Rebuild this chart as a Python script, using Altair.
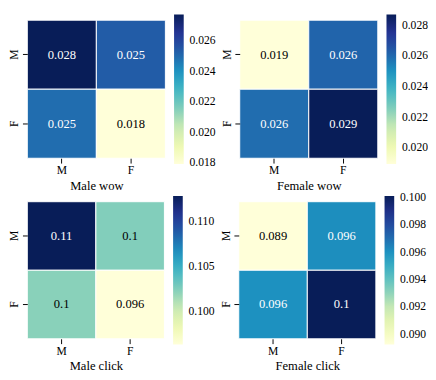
import altair as alt
import pandas as pd

rows = ["M", "F"]
cols = ["M", "F"]
titles = ["Male wow", "Female wow", "Male click", "Female click"]

male_wow = [[0.0277, 0.0253], [0.0249, 0.0179]]
female_wow = [[0.0189, 0.0261], [0.0259, 0.0287]]
male_click = [[0.1128, 0.1024], [0.1022, 0.0963]]
female_click = [[0.0892, 0.0961], [0.0960, 0.1001]]

ticks_male_wow = [0.018, 0.020, 0.022, 0.024, 0.026]
ticks_female_wow = [0.020, 0.022, 0.024, 0.026, 0.028]
ticks_male_click = [0.100, 0.105, 0.110]
ticks_female_click = [0.090, 0.092, 0.094, 0.096, 0.098, 0.100]

# matplotlib YlGnBu control colours
ylgnbu = ["#ffffd9", "#edf8b1", "#c7e9b4", "#7fcdbb", "#41b6c4",
          "#1d91c0", "#225ea8", "#253494", "#081d58"]

FONT = "Liberation Serif"


def panel(values, title, ticks, size):
    recs = []
    for i, r in enumerate(rows):
        for j, c in enumerate(cols):
            recs.append({"row": r, "col": c, "value": values[i][j]})
    df = pd.DataFrame(recs)
    lo, hi = float(df["value"].min()), float(df["value"].max())
    df["t"] = (df["value"] - lo) / (hi - lo)

    base = alt.Chart(df).encode(
        x=alt.X(
            "col:N",
            sort=cols,
            title=title,
            axis=alt.Axis(
                labelAngle=0,
                domain=False,
                tickSize=5,
                tickColor="black",
                labelPadding=2,
                labelFont=FONT,
                labelFontSize=12,
                labelColor="black",
                titleFont=FONT,
                titleFontSize=13,
                titleFontWeight="normal",
                titleColor="black",
                titlePadding=4,
            ),
        ),
        y=alt.Y(
            "row:N",
            sort=rows,
            title=None,
            axis=alt.Axis(
                labelAngle=270,
                labelAlign="center",
                labelBaseline="bottom",
                domain=False,
                tickSize=5,
                tickColor="black",
                labelPadding=2,
                labelFont=FONT,
                labelFontSize=12,
                labelColor="black",
            ),
        ),
    )
    rect = base.mark_rect(stroke="white", strokeWidth=1).encode(
        color=alt.Color(
            "value:Q",
            scale=alt.Scale(range=ylgnbu, interpolate="rgb", domain=[lo, hi], zero=False, nice=False),
            legend=alt.Legend(
                title=None,
                values=ticks,
                format=".3f",
                orient="none",
                legendX=size + 9,
                legendY=-6,
                direction="vertical",
                gradientLength=size + 12,
                gradientThickness=10,
                gradientStrokeWidth=0,
                labelFont=FONT,
                labelFontSize=12,
                labelColor="black",
                labelOffset=6,
                labelOverlap=False,
            ),
        )
    )
    text = base.mark_text(fontSize=13, font=FONT).encode(
        text=alt.Text("value:Q", format=".2~g"),
        color=alt.condition("datum.t > 0.5", alt.value("white"), alt.value("black")),
    )
    return (rect + text).properties(width=size, height=size)


p1 = panel(male_wow, titles[0], ticks_male_wow, 143)
p2 = panel(female_wow, titles[1], ticks_female_wow, 143)
p3 = panel(male_click, titles[2], ticks_male_click, 142)
p4 = panel(female_click, titles[3], ticks_female_click, 142)

top = alt.hconcat(p1, p2, spacing=5).resolve_scale(color="independent")
bottom = alt.hconcat(p3, p4, spacing=5).resolve_scale(color="independent")

chart = (
    alt.vconcat(top, bottom, spacing=4)
    .resolve_scale(color="independent")
    .configure(font=FONT)
    .configure_view(stroke=None)
    .properties(padding=0)
)

chart.save("out.html", embed_options={"renderer": "svg", "actions": False})
